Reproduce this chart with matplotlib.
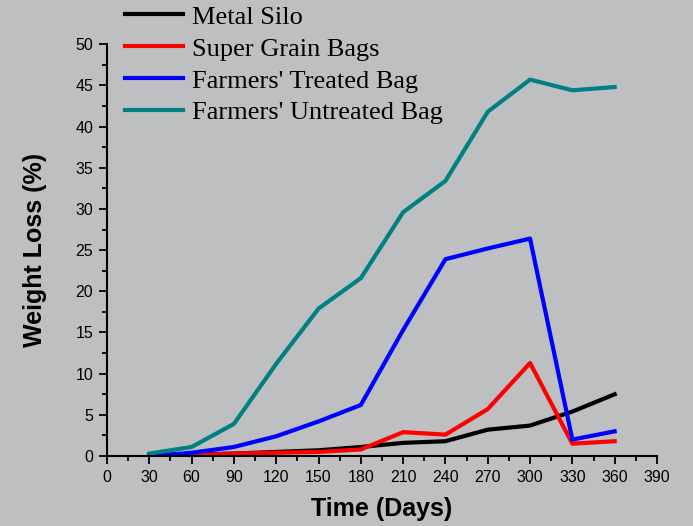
import numpy as np
import matplotlib.pyplot as plt
from matplotlib.ticker import MultipleLocator

# storage period (days) and weight loss (%) per storage type
days = [30, 60, 90, 120, 150, 180, 210, 240, 270, 300, 330, 360]
metal_silo = [0.1, 0.2, 0.3, 0.5, 0.7, 1.1, 1.6, 1.8, 3.2, 3.7, 5.4, 7.5]
super_grain = [0.0, 0.1, 0.3, 0.4, 0.5, 0.8, 2.9, 2.6, 5.7, 11.3, 1.5, 1.8]
treated_bag = [0.0, 0.4, 1.1, 2.4, 4.2, 6.2, 15.3, 23.9, 25.2, 26.4, 2.0, 3.0]
untreated_bag = [0.3, 1.1, 3.9, 11.2, 17.9, 21.6, 29.6, 33.4, 41.8, 45.7, 44.4, 44.8]

bg = '#bebfc1'
fig = plt.figure(figsize=(6.93, 5.26), dpi=100, facecolor=bg)
ax = fig.add_axes([0.1544, 0.133, 0.7936, 0.783], facecolor=bg)

ax.plot(days, metal_silo, color='black', lw=3, label='Metal Silo')
ax.plot(days, super_grain, color='#ff0000', lw=3, label='Super Grain Bags')
ax.plot(days, treated_bag, color='#0000ff', lw=3, label="Farmers' Treated Bag")
ax.plot(days, untreated_bag, color='#008080', lw=3, label="Farmers' Untreated Bag")

ax.set_xlim(0, 390)
ax.set_ylim(0, 50)
ax.xaxis.set_major_locator(MultipleLocator(30))
ax.xaxis.set_minor_locator(MultipleLocator(15))
ax.yaxis.set_major_locator(MultipleLocator(5))
ax.yaxis.set_minor_locator(MultipleLocator(2.5))
ax.spines['top'].set_visible(False)
ax.spines['right'].set_visible(False)
for s in ['left', 'bottom']:
    ax.spines[s].set_linewidth(1.5)
ax.tick_params(which='major', direction='out', length=6, width=1.3,
               labelsize=11.5, labelfontfamily='Liberation Sans', pad=4)
ax.tick_params(which='minor', direction='out', length=3.5, width=1.3)

ax.set_xlabel('Time (Days)', fontsize=18, fontweight='bold',
              family='Liberation Sans', labelpad=9)
ax.set_ylabel('Weight Loss (%)', fontsize=18, fontweight='bold',
              family='Liberation Sans', labelpad=20)

fig.legend(loc='upper left', bbox_to_anchor=(0.18, 0.99), frameon=False,
           prop={'family': 'Liberation Serif', 'size': 19},
           handlelength=2.2, handletextpad=0.33, labelspacing=0.32,
           borderpad=0, borderaxespad=0)

fig.savefig('out.png', dpi=100, facecolor=bg)
